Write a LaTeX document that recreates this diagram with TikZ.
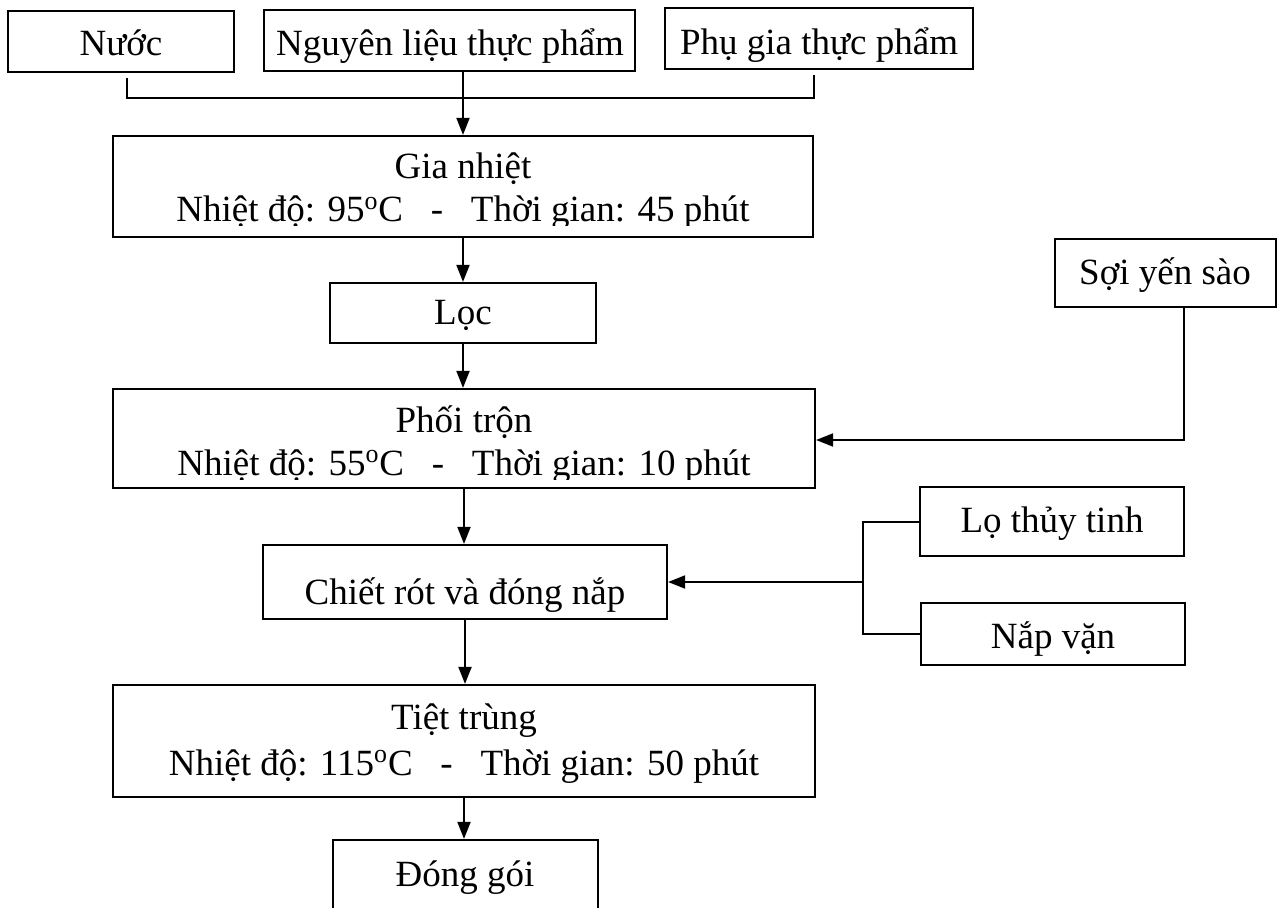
\documentclass[tikz,border=0pt]{standalone}
\usepackage{fontspec}
\setmainfont{Liberation Serif}
\usetikzlibrary{arrows.meta,fit}
\begin{document}
\begin{tikzpicture}[x=0.5pt,y=-0.5pt,
  box/.style={draw, line width=1.1pt, inner sep=0pt},
  txt/.style={font=\fontsize{18.5}{22}\selectfont, anchor=base, inner sep=0pt},
  arr/.style={line width=1pt, -{Triangle[length=8.5pt,width=6.5pt]}},
  ln/.style={line width=1pt}]
\useasboundingbox (0,0) rectangle (1283,908);
\clip (0,0) rectangle (1283,908);
\fill[white] (0,0) rectangle (1283,908);

% boxes
\node[box, fit={(8,11) (234,72)}] (nuoc) {};
\node[box, fit={(264,10) (635,71)}] (nguyen) {};
\node[box, fit={(665,8) (973,69)}] (phu) {};
\node[box, fit={(113,136) (813,237)}] (gia) {};
\node[box, fit={(330,283) (596,343)}] (loc) {};
\node[box, fit={(1055,239) (1276,307)}] (soi) {};
\node[box, fit={(113,389) (815,488)}] (phoi) {};
\node[box, fit={(920,487) (1184,556)}] (lo) {};
\node[box, fit={(263,545) (667,619)}] (chiet) {};
\node[box, fit={(921,603) (1185,665)}] (nap) {};
\node[box, fit={(113,685) (815,797)}] (tiet) {};
\node[box, fit={(333,840) (598,960)}] (dong) {};

% texts
\node[txt] (nuoct) at (121,56) {Nước};
\node[txt] (nguyent) at (450,56) {Nguyên liệu thực phẩm};
\node[txt] (phut) at (819,55) {Phụ gia thực phẩm};
\node[txt] (giat1) at (463,179) {Gia nhiệt};
\begin{scope}
\clip (120,185) rectangle (805,226);
\node[txt] (giat2) at (463,222) {Nhiệt độ: 95\textsuperscript{o}C\ \ \ -\ \ \ Thời gian: 45 phút};
\end{scope}
\node[txt] (loct) at (463,325) {Lọc};
\node[txt] (soit) at (1165,285) {Sợi yến sào};
\node[txt] (phoit1) at (464,432) {Phối trộn};
\begin{scope}
\clip (120,438) rectangle (805,479);
\node[txt] (phoit2) at (464,475) {Nhiệt độ: 55\textsuperscript{o}C\ \ \ -\ \ \ Thời gian: 10 phút};
\end{scope}
\node[txt] (lot) at (1052,532) {Lọ thủy tinh};
\node[txt] (chiett) at (465,604) {Chiết rót và đóng nắp};
\node[txt] (napt) at (1053,648) {Nắp vặn};
\node[txt] (tiett1) at (464,729) {Tiệt trùng};
\node[txt] (tiett2) at (464,775) {Nhiệt độ: 115\textsuperscript{o}C\ \ \ -\ \ \ Thời gian: 50 phút};
\node[txt] (dongt) at (465,886) {Đóng gói};

% connectors
\coordinate (jn) at (127,98);
\coordinate (jp) at (814,98);
\draw[ln, shorten <=2.5pt, shorten >=2.5pt] (jn |- nuoc.south) -- (jn) -- (jp) -- (jp |- phu.south);
\draw[arr] (gia.north |- nguyen.south) -- (gia.north);
\draw[arr] (gia.south) -- (loc.north);
\draw[arr] (loc.south) -- (loc.south |- phoi.north);
\coordinate (sc) at (1184,440);
\draw[arr] (sc |- soi.south) -- (sc) -- (sc -| phoi.east);
\draw[arr] (phoi.south) -- (phoi.south |- chiet.north);
\coordinate (bk) at (863,582);
\draw[ln] (lo.west) -| (bk) |- (nap.west);
\draw[arr] (bk) -- (bk -| chiet.east);
\draw[arr] (chiet.south) -- (chiet.south |- tiet.north);
\draw[arr] (tiet.south) -- (tiet.south |- dong.north);
\end{tikzpicture}
\end{document}
